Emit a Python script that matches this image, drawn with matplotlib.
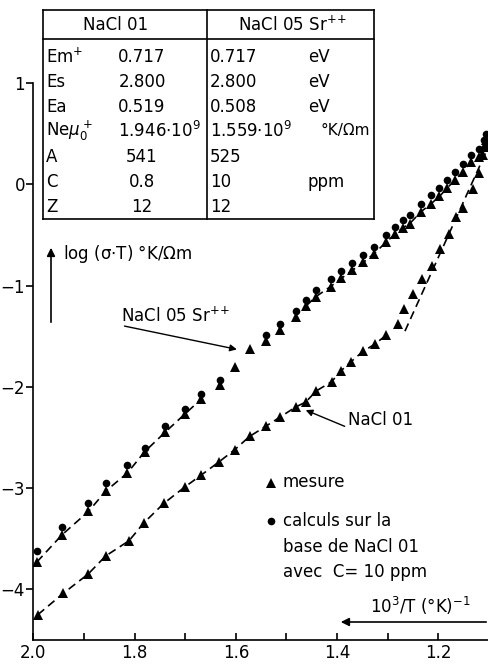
import matplotlib
matplotlib.use('Agg')
import matplotlib.pyplot as plt
from matplotlib.lines import Line2D
import numpy as np

# NaCl 01 : measured points (lower curve)
nacl01_x = [1.991, 1.941, 1.892, 1.857, 1.811, 1.781, 1.742, 1.701, 1.668, 1.633,
            1.602, 1.573, 1.541, 1.513, 1.482, 1.462, 1.441, 1.411, 1.392, 1.372,
            1.349, 1.326, 1.303, 1.280, 1.267, 1.250, 1.232, 1.212, 1.196, 1.179,
            1.165, 1.152, 1.132, 1.119, 1.112, 1.106]
nacl01_y = [-4.25, -4.04, -3.85, -3.67, -3.52, -3.34, -3.15, -2.99, -2.87, -2.74,
            -2.62, -2.49, -2.39, -2.30, -2.20, -2.15, -2.04, -1.95, -1.84, -1.75,
            -1.65, -1.58, -1.49, -1.38, -1.23, -1.08, -0.94, -0.81, -0.64, -0.49,
            -0.32, -0.23, -0.05, 0.11, 0.29, 0.39]

# NaCl 05 Sr++ : measured points (upper curve)
sr_x = [1.993, 1.943, 1.891, 1.857, 1.814, 1.780, 1.740, 1.701, 1.668, 1.632,
        1.602, 1.573, 1.541, 1.513, 1.482, 1.461, 1.442, 1.413, 1.392, 1.370,
        1.348, 1.328, 1.303, 1.285, 1.270, 1.257, 1.234, 1.214, 1.198, 1.183,
        1.168, 1.152, 1.135, 1.119, 1.109, 1.105]
sr_y = [-3.73, -3.46, -3.23, -3.03, -2.85, -2.64, -2.45, -2.27, -2.12, -1.98,
        -1.80, -1.63, -1.55, -1.44, -1.31, -1.20, -1.11, -1.01, -0.93, -0.85,
        -0.77, -0.69, -0.57, -0.49, -0.43, -0.39, -0.27, -0.19, -0.12, -0.04,
        0.04, 0.12, 0.22, 0.27, 0.37, 0.44]

# calculated points (NaCl 01 base, C = 10 ppm)
calc_x = [1.993, 1.943, 1.891, 1.857, 1.814, 1.780, 1.740, 1.701, 1.668, 1.632,
          1.541, 1.513, 1.482, 1.461, 1.442, 1.413, 1.392, 1.370, 1.348, 1.328,
          1.303, 1.285, 1.270, 1.257, 1.234, 1.214, 1.198, 1.183, 1.168, 1.152,
          1.135, 1.119, 1.109, 1.105]
calc_y = [-3.62, -3.38, -3.15, -2.95, -2.77, -2.60, -2.39, -2.22, -2.07, -1.93,
          -1.49, -1.38, -1.25, -1.14, -1.04, -0.94, -0.86, -0.78, -0.70, -0.62,
          -0.50, -0.42, -0.35, -0.30, -0.19, -0.11, -0.04, 0.04, 0.12, 0.20,
          0.29, 0.35, 0.44, 0.50]

# steep dashed fit for NaCl 01 at high temperature
fit01_x = [1.266, 1.104]
fit01_y = [-1.45, 0.34]

W, H = 489, 671
def fp(x, y):
    # figure pixel -> figure fraction
    return (x / W, 1 - y / H)

fig = plt.figure(figsize=(W / 100, H / 100), dpi=100)
plt.rcParams['font.family'] = 'DejaVu Sans'
ax = fig.add_axes([33.3 / W, 31 / H, 1 - 33.3 / W, 1 - 31 / H])
ax.set_xlim(2.0, 1.1)
ax.set_ylim(-4.5, 1.82)

lw = 1.2
dash = (5, 3)
ax.plot(nacl01_x[:23], nacl01_y[:23], '--', color='k', lw=lw, dashes=dash)
ax.plot(fit01_x, fit01_y, '--', color='k', lw=lw, dashes=dash)
ax.plot(sr_x[:9], sr_y[:9], '--', color='k', lw=lw, dashes=dash)
ax.plot(sr_x[15:], sr_y[15:], '--', color='k', lw=lw, dashes=dash)

ax.plot(calc_x, calc_y, 'o', color='k', ms=5.5, mew=0)
ax.plot(nacl01_x, nacl01_y, '^', color='k', ms=7, mew=0)
ax.plot(sr_x, sr_y, '^', color='k', ms=7, mew=0)

for s in ['top', 'right']:
    ax.spines[s].set_visible(False)
ax.spines['left'].set_bounds(-4.5, 1.0)
ax.spines['left'].set_linewidth(1.2)
ax.spines['bottom'].set_linewidth(1.2)

ax.set_xticks([2.0, 1.8, 1.6, 1.4, 1.2])
ax.set_xticklabels(['2.0', '1.8', '1.6', '1.4', '1.2'])
ax.set_xticks([1.9, 1.7, 1.5, 1.3, 1.1], minor=True)
ax.tick_params(axis='x', which='both', direction='in', length=5, width=1.2,
               labelsize=12, pad=3)
ax.set_yticks([1, 0, -1, -2, -3, -4])
ax.tick_params(axis='y', direction='out', length=5, width=1.2, labelsize=12, pad=1)

# parameter table
tl = dict(color='k', lw=1.2, transform=fig.transFigure)
for (x0, y0), (x1, y1) in [((43, 10), (374, 10)), ((43, 219), (374, 219)),
                           ((43, 10), (43, 219)), ((374, 10), (374, 219)),
                           ((207, 10), (207, 219)), ((43, 39), (374, 39))]:
    a, b = fp(x0, y0), fp(x1, y1)
    fig.add_artist(Line2D([a[0], b[0]], [a[1], b[1]], **tl))

fs = 12
fig.text(*fp(116, 25), 'NaCl 01', fontsize=fs, ha='center', va='center')
fig.text(*fp(292, 25), 'NaCl 05 Sr$^{+\\!+}$', fontsize=fs, ha='center', va='center')

labels = ['Em$^{+}$', 'Es', 'Ea', 'Ne$\\mu_0^+$', 'A', 'C', 'Z']
col1 = ['0.717', '2.800', '0.519', '1.946$\\cdot$10$^9$', '541', '0.8', '12']
col2 = ['0.717', '2.800', '0.508', '1.559$\\cdot$10$^9$', '525', '10', '12']
units = ['eV', 'eV', 'eV', '°K/Ωm', '', 'ppm', '']
rows_y = [57, 82, 107, 131, 157, 182, 207]
for lab, v1, v2, u, yy in zip(labels, col1, col2, units, rows_y):
    fig.text(*fp(46, yy), lab, fontsize=fs, ha='left', va='center')
    if '$' in v1:
        fig.text(*fp(118, yy), v1, fontsize=fs, ha='left', va='center')
    else:
        fig.text(*fp(142, yy), v1, fontsize=fs, ha='center', va='center')
    fig.text(*fp(210, yy), v2, fontsize=fs, ha='left', va='center')
    if u == '°K/Ωm':
        fig.text(*fp(370, yy), u, fontsize=fs - 1, ha='right', va='center')
    elif u:
        fig.text(*fp(308, yy), u, fontsize=fs, ha='left', va='center')

# y axis label with arrow
ax.annotate('', xy=fp(51, 245), xytext=fp(51, 325), xycoords='figure fraction',
            textcoords='figure fraction',
            arrowprops=dict(arrowstyle='-|>', color='k', lw=1.2, mutation_scale=12))
fig.text(*fp(63, 254), 'log (σ$\\cdot$T) °K/Ωm', fontsize=fs, ha='left', va='center')

# x axis label with arrow
ax.annotate('', xy=fp(338, 622), xytext=fp(489, 622), xycoords='figure fraction',
            textcoords='figure fraction',
            arrowprops=dict(arrowstyle='-|>', color='k', lw=1.2, mutation_scale=12))
fig.text(*fp(420, 606), '10$^3$/T (°K)$^{-1}$', fontsize=fs, ha='center', va='center')

# curve labels
ax.text(1.826, -1.30, 'NaCl 05 Sr$^{+\\!+}$', fontsize=fs, ha='left', va='center')
ax.annotate('', xy=(1.598, -1.63), xytext=(1.820, -1.40),
            arrowprops=dict(arrowstyle='-|>', color='k', lw=1.0, mutation_scale=10,
                            shrinkA=0, shrinkB=0))
ax.text(1.378, -2.33, 'NaCl 01', fontsize=fs, ha='left', va='center')
ax.annotate('', xy=(1.462, -2.23), xytext=(1.385, -2.39),
            arrowprops=dict(arrowstyle='-|>', color='k', lw=1.0, mutation_scale=10,
                            shrinkA=0, shrinkB=0))

# legend
lx, ly1 = fp(271, 483)
_, ly2 = fp(271, 521)
ax.plot([lx], [ly1], '^', color='k', ms=7, mew=0, transform=fig.transFigure,
        clip_on=False)
ax.plot([lx], [ly2], 'o', color='k', ms=5.5, mew=0, transform=fig.transFigure,
        clip_on=False)
fig.text(*fp(283, 482), 'mesure', fontsize=fs, ha='left', va='center')
fig.text(*fp(283, 521), 'calculs sur la', fontsize=fs, ha='left', va='center')
fig.text(*fp(283, 547), 'base de NaCl 01', fontsize=fs, ha='left', va='center')
fig.text(*fp(283, 572), 'avec  C= 10 ppm', fontsize=fs, ha='left', va='center')

plt.savefig('out.png', dpi=100)
